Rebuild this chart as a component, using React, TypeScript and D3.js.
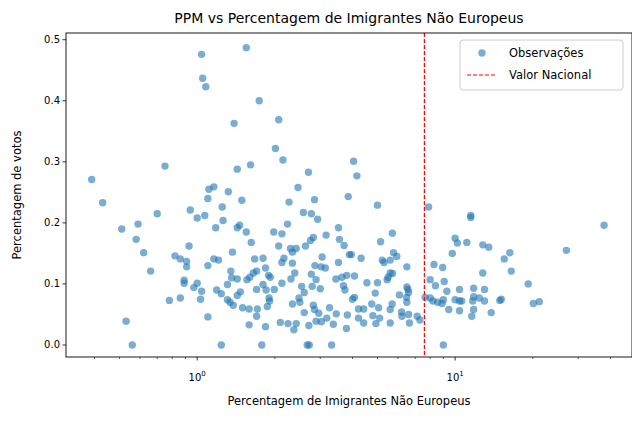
import * as d3 from 'd3';
import { useEffect, useRef } from 'react';

// share of non-European immigrants (%), vote share
const pctImigrantes = [
  1.04,1.55,1.05,1.08,1.74,2.07,1.39,2.01,2.15,0.75,1.61,1.43,2.70,0.39,2.46,1.16,1.11,1.32,1.10,2.85,
  0.43,1.49,2.27,1.25,3.85,0.94,2.58,2.77,0.70,1.0,1.07,2.93,1.26,0.59,0.51,1.18,1.43,1.46,2.24,1.55,
  1.98,2.13,3.53,0.58,2.82,2.75,3.16,3.56,1.62,3.71,0.93,2.07,2.63,2.30,2.42,2.34,0.62,1.37,3.89,0.82,
  0.86,0.91,1.16,1.21,1.67,1.80,2.17,3.05,0.91,1.10,2.13,2.34,3.53,2.86,3.02,3.14,0.66,1.35,1.84,1.65,
  1.70,2.39,1.89,1.36,1.43,1.56,1.60,1.92,2.31,2.77,3.45,3.64,3.8,0.89,0.89,1.0,0.97,1.31,1.80,2.13,
  2.54,2.89,2.79,3.0,3.69,1.04,1.19,1.24,1.47,1.43,1.70,1.85,1.99,2.60,3.74,0.78,0.86,1.03,1.31,1.34,
  1.90,1.91,2.48,2.34,2.50,1.38,1.50,1.59,1.71,1.87,2.82,2.85,3.26,2.60,2.96,3.46,3.82,1.10,1.70,3.18,
  2.89,0.53,2.10,2.25,2.42,3.03,1.59,1.84,2.71,3.37,3.79,2.37,0.56,1.24,1.78,2.67,2.72,3.32,
  4.04,4.16,5.0,7.89,11.5,11.5,37.8,5.71,5.14,10.0,10.2,11.1,12.8,13.5,27.0,16.3,15.5,9.75,3.96,4.32,
  5.77,5.94,5.22,5.3,5.60,6.50,8.28,8.95,16.5,12.8,5.6,5.5,5.45,5.72,4.07,4.55,5.0,8.0,8.39,9.07,
  6.5,6.56,6.6,19.2,10.4,11.8,13.0,9.29,4.90,6.08,4.07,4.0,6.48,7.65,8.0,8.2,8.55,8.9,9.0,10.0,
  10.4,10.6,11.7,11.8,12.4,13.0,14.9,15.1,20.1,21.2,6.5,5.7,4.75,5.05,4.22,4.42,5.6,9.45,10.4,11.8,
  13.8,4.8,5.1,6.2,6.22,6.6,7.13,7.3,4.22,4.42,4.93,5.6,6.65,11.6,9.0,
];
const pctVotos = [
  0.476,0.487,0.437,0.423,0.400,0.369,0.363,0.322,0.303,0.293,0.295,0.288,0.283,0.271,0.258,0.259,0.255,0.251,0.240,0.238,
  0.233,0.237,0.234,0.226,0.243,0.221,0.217,0.215,0.215,0.208,0.212,0.206,0.204,0.198,0.190,0.192,0.192,0.196,0.198,0.185,
  0.185,0.182,0.192,0.173,0.176,0.171,0.180,0.173,0.168,0.163,0.162,0.162,0.162,0.158,0.158,0.152,0.151,0.152,0.148,0.146,
  0.141,0.137,0.141,0.139,0.141,0.142,0.142,0.144,0.128,0.130,0.135,0.134,0.135,0.130,0.128,0.126,0.121,0.121,0.126,0.118,
  0.121,0.118,0.114,0.110,0.108,0.107,0.111,0.111,0.108,0.116,0.108,0.111,0.114,0.106,0.101,0.101,0.094,0.099,0.099,0.101,
  0.096,0.107,0.096,0.092,0.097,0.088,0.090,0.084,0.087,0.081,0.091,0.090,0.091,0.086,0.090,0.073,0.077,0.075,0.074,0.070,
  0.077,0.072,0.077,0.067,0.070,0.065,0.061,0.059,0.059,0.063,0.065,0.058,0.061,0.053,0.052,0.051,0.049,0.046,0.047,0.044,
  0.039,0.039,0.037,0.035,0.035,0.038,0.033,0.030,0.032,0.034,0.027,0.025,0.0,0.0,0.0,0.0,0.0,0.0,
  0.301,0.277,0.229,0.226,0.212,0.209,0.196,0.183,0.169,0.175,0.167,0.168,0.164,0.160,0.155,0.151,0.141,0.150,0.148,0.142,
  0.151,0.145,0.139,0.135,0.139,0.128,0.132,0.127,0.121,0.118,0.118,0.111,0.107,0.117,0.113,0.102,0.102,0.107,0.097,0.104,
  0.095,0.091,0.086,0.100,0.091,0.093,0.091,0.088,0.085,0.082,0.078,0.075,0.078,0.078,0.077,0.072,0.070,0.068,0.074,0.074,
  0.072,0.072,0.072,0.079,0.077,0.072,0.073,0.075,0.068,0.071,0.070,0.067,0.067,0.061,0.059,0.059,0.058,0.058,0.056,0.058,
  0.053,0.048,0.044,0.054,0.047,0.050,0.047,0.041,0.044,0.036,0.035,0.036,0.036,0.047,0.0,
];
const valorNacional = 7.6;
const yTicks = [0, 0.1, 0.2, 0.3, 0.4, 0.5];

const W = 640;
const H = 422;
const margin = { top: 33, right: 8, bottom: 65, left: 66 };
const font = 'DejaVu Sans, sans-serif';

export default function App() {
  const ref = useRef<SVGSVGElement>(null);

  useEffect(() => {
    const svg = d3.select(ref.current);
    svg.selectAll('*').remove();

    const x = d3.scaleLog([0.31, 48.5], [margin.left, W - margin.right]);
    const y = d3.scaleLinear([-0.0197, 0.511], [H - margin.bottom, margin.top]);
    const top = margin.top;
    const bottom = H - margin.bottom;

    svg.append('rect').attr('width', W).attr('height', H).attr('fill', '#fff');

    const data = d3.zip(pctImigrantes, pctVotos);
    svg.append('g')
      .selectAll('circle')
      .data(data)
      .join('circle')
      .attr('cx', (d) => x(d[0]))
      .attr('cy', (d) => y(d[1]))
      .attr('r', 3.7)
      .attr('fill', '#1f77b4')
      .attr('fill-opacity', 0.6);

    svg.append('line')
      .attr('x1', x(valorNacional)).attr('x2', x(valorNacional))
      .attr('y1', top).attr('y2', bottom)
      .attr('stroke', 'red').attr('stroke-width', 1.2).attr('stroke-dasharray', '4,2');

    // frame
    svg.append('rect')
      .attr('x', margin.left).attr('y', top)
      .attr('width', W - margin.right - margin.left).attr('height', bottom - top)
      .attr('fill', 'none').attr('stroke', '#000').attr('stroke-width', 0.9);

    // x axis (log)
    const minor: number[] = [];
    for (const dec of [0.1, 1, 10]) for (let k = 2; k <= 9; k++) {
      const v = dec * k;
      if (v >= 0.31 && v <= 48.5) minor.push(v);
    }
    const gx = svg.append('g');
    gx.selectAll('line.minor').data(minor).join('line')
      .attr('x1', (d) => x(d)).attr('x2', (d) => x(d))
      .attr('y1', bottom).attr('y2', bottom + 2).attr('stroke', '#000').attr('stroke-width', 0.6);
    const major = [1, 10];
    gx.selectAll('line.major').data(major).join('line')
      .attr('x1', (d) => x(d)).attr('x2', (d) => x(d))
      .attr('y1', bottom).attr('y2', bottom + 3.5).attr('stroke', '#000').attr('stroke-width', 0.8);
    const lbl = gx.selectAll('text').data([0, 1]).join('text')
      .attr('x', (d) => x(10 ** d)).attr('y', bottom + 24)
      .attr('text-anchor', 'middle').attr('font-family', font).attr('font-size', 10);
    lbl.append('tspan').text('10');
    lbl.append('tspan').attr('dy', -5).attr('font-size', 7).text((d) => String(d));

    // y axis
    const gy = svg.append('g');
    gy.selectAll('line').data(yTicks).join('line')
      .attr('x1', margin.left - 3.5).attr('x2', margin.left)
      .attr('y1', (d) => y(d)).attr('y2', (d) => y(d)).attr('stroke', '#000').attr('stroke-width', 0.8);
    gy.selectAll('text').data(yTicks).join('text')
      .attr('x', margin.left - 6).attr('y', (d) => y(d)).attr('dy', '0.35em')
      .attr('text-anchor', 'end').attr('font-family', font).attr('font-size', 10)
      .text((d) => d.toFixed(1));

    svg.append('text').attr('x', (margin.left + W - margin.right) / 2).attr('y', 23)
      .attr('text-anchor', 'middle').attr('font-family', font).attr('font-size', 14)
      .text('PPM vs Percentagem de Imigrantes Não Europeus');
    svg.append('text').attr('x', (margin.left + W - margin.right) / 2).attr('y', 405)
      .attr('text-anchor', 'middle').attr('font-family', font).attr('font-size', 11.5)
      .text('Percentagem de Imigrantes Não Europeus');
    svg.append('text').attr('transform', `translate(21,${(top + bottom) / 2}) rotate(-90)`)
      .attr('text-anchor', 'middle').attr('font-family', font).attr('font-size', 11.5)
      .text('Percentagem de votos');

    // legend
    const lg = svg.append('g').attr('transform', 'translate(460,40)');
    lg.append('rect').attr('width', 163).attr('height', 50).attr('rx', 3)
      .attr('fill', '#fff').attr('fill-opacity', 0.8).attr('stroke', '#ccc');
    lg.append('circle').attr('cx', 22).attr('cy', 13).attr('r', 3.7)
      .attr('fill', '#1f77b4').attr('fill-opacity', 0.6);
    lg.append('line').attr('x1', 7).attr('x2', 37).attr('y1', 35).attr('y2', 35)
      .attr('stroke', 'red').attr('stroke-width', 1.2).attr('stroke-dasharray', '4,2');
    lg.selectAll('text').data(['Observações', 'Valor Nacional']).join('text')
      .attr('x', 49).attr('y', (_, i) => 13 + i * 22).attr('dy', '0.35em')
      .attr('font-family', font).attr('font-size', 11.5).text((d) => d);
  }, []);

  return <svg ref={ref} width={W} height={H} style={{ display: 'block', margin: -8 }} />;
}
